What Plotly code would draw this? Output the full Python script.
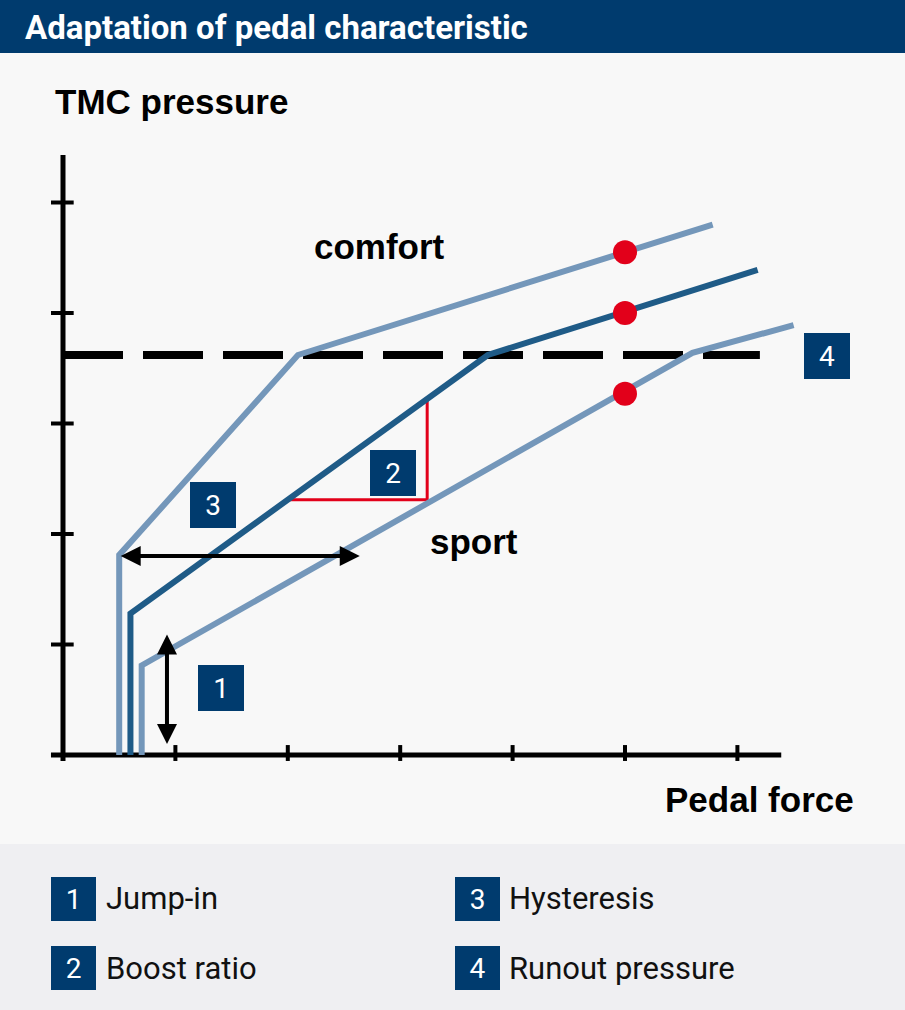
import plotly.graph_objects as go

W, H = 905, 1010

# ---------------- data (in chart units: x = pedal force, y = TMC pressure) ----------------
x_ticks = [1, 2, 3, 4, 5, 6]
y_ticks = [1, 2, 3, 4, 5]

comfort_x = [0.50, 0.50, 2.09, 5.78]
comfort_y = [0.00, 1.81, 3.62, 4.80]

boost_x = [0.60, 0.60, 3.78, 6.18]
boost_y = [0.00, 1.28, 3.62, 4.39]

sport_x = [0.70, 0.70, 5.60, 6.50]
sport_y = [0.00, 0.81, 3.64, 3.89]

dot_x = [5.0, 5.0, 5.0]
dot_y = [4.55, 4.00, 3.27]

runout_x = [0.0, 6.2]
runout_y = [3.62, 3.62]

boost_tri_x = [2.00, 3.24, 3.24]
boost_tri_y = [2.31, 2.31, 3.22]

hyst_x = [0.50, 2.64]
hyst_y = [1.80, 1.80]

jump_x = [0.925, 0.925]
jump_y = [1.104, 0.10]

marker_labels = ["1", "2", "3", "4"]
marker_x = [1.41, 2.94, 1.335, 6.797]
marker_y = [0.602, 2.551, 2.262, 3.614]

legend_nums = ["1", "2", "3", "4"]
legend_texts = ["Jump-in", "Boost ratio", "Hysteresis", "Runout pressure"]

title_text = "Adaptation of pedal characteristic"
y_label = "TMC pressure"
x_label = "Pedal force"
curve_labels = ["comfort", "sport"]

# ---------------- styles ----------------
DARK = "#003b6e"
LIGHT_LINE = "#7497ba"
DARK_LINE = "#1f5b87"
RED = "#e2001a"
BG = "#f8f8f8"
LEG_BG = "#efeff2"
BOLD = "Liberation Sans"
REG = "Roboto"

x_range = [-63 / 112.4, (W - 63) / 112.4]
y_range = [-(H - 755) / 110.5, 755 / 110.5]

fig = go.Figure()

# axes (drawn as lines in data units)
fig.add_trace(go.Scatter(x=[0, 0], y=[-0.054, 5.43], mode="lines",
                         line=dict(color="black", width=5), hoverinfo="skip"))
fig.add_trace(go.Scatter(x=[-0.107, 6.39], y=[0, 0], mode="lines",
                         line=dict(color="black", width=5), hoverinfo="skip"))
tx, ty = [], []
for t in x_ticks:
    tx += [t, t, None]
    ty += [-0.054, 0.09, None]
fig.add_trace(go.Scatter(x=tx, y=ty, mode="lines",
                         line=dict(color="black", width=4), hoverinfo="skip"))
tx, ty = [], []
for t in y_ticks:
    tx += [-0.107, 0.095, None]
    ty += [t, t, None]
fig.add_trace(go.Scatter(x=tx, y=ty, mode="lines",
                         line=dict(color="black", width=4), hoverinfo="skip"))

# runout pressure dashed line
fig.add_trace(go.Scatter(x=runout_x, y=runout_y, mode="lines",
                         line=dict(color="black", width=8, dash="60px,20px"), hoverinfo="skip"))

# boost ratio triangle
fig.add_trace(go.Scatter(x=boost_tri_x, y=boost_tri_y, mode="lines",
                         line=dict(color=RED, width=3), hoverinfo="skip"))

# curves
fig.add_trace(go.Scatter(x=comfort_x, y=comfort_y, mode="lines",
                         line=dict(color=LIGHT_LINE, width=6), hoverinfo="skip"))
fig.add_trace(go.Scatter(x=sport_x, y=sport_y, mode="lines",
                         line=dict(color=LIGHT_LINE, width=6), hoverinfo="skip"))
fig.add_trace(go.Scatter(x=boost_x, y=boost_y, mode="lines",
                         line=dict(color=DARK_LINE, width=6), hoverinfo="skip"))

# red dots
fig.add_trace(go.Scatter(x=dot_x, y=dot_y, mode="markers",
                         marker=dict(color=RED, size=24, line=dict(width=0)), hoverinfo="skip"))

ann = []
# double arrows
for ax_, ay_ in ((hyst_x, hyst_y), (jump_x, jump_y)):
    ann.append(dict(x=ax_[1], y=ay_[1], ax=ax_[0], ay=ay_[0], xref="x", yref="y",
                    axref="x", ayref="y", text="", showarrow=True, arrowhead=2, startarrowhead=2,
                    arrowside="end+start", arrowwidth=4, arrowsize=1, startarrowsize=1,
                    arrowcolor="black", standoff=0, startstandoff=0))

# numbered markers in chart
for lab, mx, my in zip(marker_labels, marker_x, marker_y):
    ann.append(dict(x=mx, y=my, xref="x", yref="y", text=lab, showarrow=False,
                    xanchor="center", yanchor="middle",
                    bgcolor=DARK, width=46, height=46, borderpad=0, borderwidth=0,
                    align="center", valign="middle",
                    font=dict(family=REG, size=28, color="white")))

bold_font = dict(family=BOLD, size=35, color="black", weight="bold")
# text labels
ann.append(dict(x=2.215, y=(755 - 246) / 110.5, xref="x", yref="y", text=curve_labels[0],
                showarrow=False, xanchor="left", yanchor="middle", font=bold_font))
ann.append(dict(x=(428 - 63) / 112.4, y=(755 - 541) / 110.5, xref="x", yref="y", text=curve_labels[1],
                showarrow=False, xanchor="left", yanchor="middle", font=bold_font))
ann.append(dict(x=53 / W, y=1 - 102 / H, xref="paper", yref="paper", text=y_label,
                showarrow=False, xanchor="left", yanchor="middle", font=bold_font))
ann.append(dict(x=663 / W, y=1 - 799 / H, xref="paper", yref="paper", text=x_label,
                showarrow=False, xanchor="left", yanchor="middle", font=bold_font))

# header title
ann.append(dict(x=23 / W, y=1 - 27 / H, xref="paper", yref="paper", text=title_text,
                showarrow=False, xanchor="left", yanchor="middle",
                font=dict(family=REG, size=33, color="white", weight="bold")))

# legend
leg_pos = [(73.5, 898.5), (73.5, 968), (477, 898.5), (477, 968)]
for num, txt, (cx, cy) in zip(legend_nums, legend_texts, leg_pos):
    ann.append(dict(x=cx / W, y=1 - cy / H, xref="paper", yref="paper", text=num,
                    showarrow=False, xanchor="center", yanchor="middle",
                    bgcolor=DARK, width=45, height=44, borderpad=0,
                    borderwidth=0, align="center", valign="middle",
                    font=dict(family=REG, size=28, color="white")))
    ann.append(dict(x=(cx + 30) / W, y=1 - cy / H, xref="paper", yref="paper", text=txt,
                    showarrow=False, xanchor="left", yanchor="middle",
                    font=dict(family=REG, size=31, color="#111111")))

shapes = [
    dict(type="rect", xref="paper", yref="paper", x0=0, x1=1, y0=1 - 53 / H, y1=1,
         fillcolor=DARK, line=dict(width=0), layer="below"),
    dict(type="rect", xref="paper", yref="paper", x0=0, x1=1, y0=0, y1=1 - 844 / H,
         fillcolor=LEG_BG, line=dict(width=0), layer="below"),
]

fig.update_layout(
    width=W, height=H, margin=dict(l=0, r=0, t=0, b=0),
    paper_bgcolor=BG, plot_bgcolor="rgba(0,0,0,0)",
    showlegend=False, annotations=ann, shapes=shapes,
    xaxis=dict(range=x_range, visible=False, fixedrange=True),
    yaxis=dict(range=y_range, visible=False, fixedrange=True),
)

fig.write_html("out.html", config={"displayModeBar": False},
               post_script="document.body.style.margin='0px';document.body.style.overflow='hidden';")
